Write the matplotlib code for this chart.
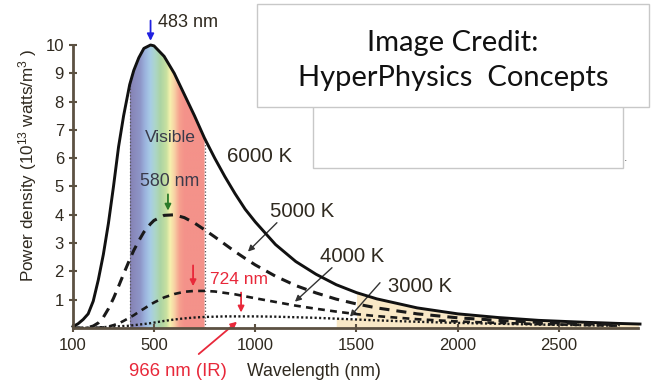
import numpy as np
import matplotlib
matplotlib.use('Agg')
import matplotlib.pyplot as plt
from matplotlib.colors import LinearSegmentedColormap
from matplotlib.patches import Rectangle

plt.rcParams['font.family'] = 'Liberation Sans'
plt.rcParams['mathtext.fontset'] = 'custom'
plt.rcParams['mathtext.rm'] = 'Liberation Sans'
plt.rcParams['mathtext.it'] = 'Liberation Sans:italic'

# wavelength (nm) and power density (10^13 W/m^3)
WAVELENGTH = np.array([100, 125, 150, 175, 200, 225, 250, 275, 300, 325, 350, 380, 400, 425,
                       450, 483, 500, 550, 600, 650, 700, 750, 800, 850, 900, 950, 1000, 1100,
                       1200, 1300, 1400, 1500, 1600, 1800, 2000, 2200, 2400, 2600, 2800, 2900])
T6000 = np.array([0.05, 0.15, 0.3, 0.5, 0.95, 1.7, 2.6, 3.7, 5.0, 6.4, 7.5, 8.6, 9.1, 9.55,
                  9.88, 10.0, 9.97, 9.6, 9.0, 8.25, 7.5, 6.7, 6.0, 5.35, 4.75, 4.2, 3.75, 2.95,
                  2.35, 1.9, 1.53, 1.25, 1.03, 0.71, 0.5, 0.37, 0.27, 0.21, 0.16, 0.14])
T5000 = np.array([0.0, 0.0, 0.0, 0.02, 0.07, 0.18, 0.38, 0.68, 1.05, 1.47, 1.91, 2.42, 2.74, 3.08,
                  3.39, 3.68, 3.8, 3.98, 4.0, 3.9, 3.71, 3.47, 3.22, 2.96, 2.7, 2.46, 2.23, 1.83,
                  1.5, 1.24, 1.02, 0.85, 0.71, 0.5, 0.36, 0.27, 0.2, 0.16, 0.12, np.nan])
T4000 = np.array([0.0, 0.0, 0.0, 0.0, 0.0, 0.01, 0.02, 0.05, 0.1, 0.16, 0.25, 0.37, 0.45, 0.57,
                  0.68, 0.83, 0.9, 1.08, 1.2, 1.28, 1.31, 1.31, 1.29, 1.24, 1.19, 1.12, 1.05, 0.92,
                  0.79, 0.68, 0.58, 0.49, 0.42, 0.31, 0.23, 0.18, 0.14, 0.11, 0.08, np.nan])
T3000 = np.array([0.0, 0.0, 0.0, 0.01, 0.02, 0.02, 0.03, 0.04, 0.05, 0.06, 0.07, 0.08, 0.1, 0.12,
                  0.14, 0.17, 0.19, 0.25, 0.3, 0.34, 0.37, 0.39, 0.4, 0.41, 0.41, 0.41, 0.41, 0.4,
                  0.38, 0.36, 0.33, 0.3, 0.27, 0.22, 0.18, 0.15, 0.12, 0.1, 0.08, np.nan])

BAND_NM = [380, 430, 455, 480, 505, 530, 560, 578, 600, 625, 650, 750]
BAND_COLORS = ['#8682b4', '#8e96c8', '#9cb4de', '#a8cce6', '#acd6c8', '#acd4a4',
               '#c8e0a0', '#f6f2ae', '#f8d0a4', '#f6a08e', '#f4928a', '#f4928a']

XTICKS = [100, 500, 1000, 1500, 2000, 2500]
YTICKS = [1, 2, 3, 4, 5, 6, 7, 8, 9, 10]

AXIS_COL = '#5c5142'
TEXT_COL = '#2f291f'
RED = '#e8283a'

fig = plt.figure(figsize=(6.54, 3.83), dpi=100)
ax = fig.add_axes([0.1116, 0.1436, 0.8639, 0.75])

# cream infrared fill
ir = WAVELENGTH >= 1500
ax.fill_between(WAVELENGTH[ir], 0, T6000[ir], color='#f9e8c6', lw=0, zorder=0)
ir2 = WAVELENGTH >= 1400
ax.fill_between(WAVELENGTH[ir2], 0, T3000[ir2], color='#f9e8c6', lw=0, zorder=0)

# visible rainbow band clipped under the 6000 K curve
band = (WAVELENGTH >= 380) & (WAVELENGTH <= 750)
poly = ax.fill_between(WAVELENGTH[band], 0, T6000[band], facecolor='none', lw=0)
cmap = LinearSegmentedColormap.from_list(
    'vis', [((p - 380) / 370, c) for p, c in zip(BAND_NM, BAND_COLORS)])
im = ax.imshow(np.linspace(0, 1, 500)[None, :], extent=[380, 750, 0, 10.2],
               aspect='auto', cmap=cmap, origin='lower', zorder=1)
im.set_clip_path(poly.get_paths()[0], transform=ax.transData)
for edge in (380, 750):
    top = T6000[WAVELENGTH == edge][0]
    ax.plot([edge, edge], [0, top], ls=':', color='#555555', lw=0.9, zorder=2)

ax.plot(WAVELENGTH, T6000, color='#111111', lw=2.1, zorder=4, clip_on=False)
ax.plot(WAVELENGTH, T5000, color='#1a1a1a', lw=2.2, ls=(0, (3.3, 2.3)), zorder=4)
ax.plot(WAVELENGTH, T4000, color='#1a1a1a', lw=1.9, ls=(0, (2.6, 2.0)), zorder=4)
ax.plot(WAVELENGTH, T3000, color='#1a1a1a', lw=1.7, ls=(0, (0.9, 1.0)), zorder=4)

ax.set_xlim(100, 2890)
ax.set_ylim(0, 10.15)
ax.set_xticks(XTICKS)
ax.set_yticks(YTICKS)
for s in ('top', 'right'):
    ax.spines[s].set_visible(False)
for s in ('left', 'bottom'):
    ax.spines[s].set_color(AXIS_COL)
    ax.spines[s].set_linewidth(2)
    ax.spines[s].set_zorder(5)
ax.spines['left'].set_bounds(0, 10)
ax.tick_params(direction='inout', length=6, width=1.5, color=AXIS_COL,
               labelsize=12, labelcolor=TEXT_COL)
ax.tick_params(axis='x', pad=4)
ax.tick_params(axis='y', pad=3.5)
ax.set_facecolor('none')

fig.text(28 / 654, 1 - 165 / 383, 'Power density (10$^{13}$ watts/m$^3$ )', rotation=90,
         ha='center', va='center', fontsize=12.3, color=TEXT_COL)

# annotations
ax.text(520, 10.8, '483 nm', fontsize=13, color=TEXT_COL, va='center', ha='left')
ax.annotate('', xy=(483, 10.05), xytext=(483, 10.96), annotation_clip=False,
            arrowprops=dict(arrowstyle='-|>', color='#2020e0', lw=1.3, mutation_scale=10))
ax.text(579, 6.72, 'Visible', fontsize=12.6, color='#3a3a4a', ha='center', va='center', zorder=6)
ax.text(579, 5.17, '580 nm', fontsize=12.8, color='#3a3a4a', ha='center', va='center', zorder=6)
ax.annotate('', xy=(569, 4.05), xytext=(569, 4.82),
            arrowprops=dict(arrowstyle='-|>', color='#2a7a2a', lw=1.3, mutation_scale=9))
ax.text(776, 1.71, '724 nm', fontsize=12.5, color=RED, ha='left', va='center', zorder=6)
ax.annotate('', xy=(693, 1.38), xytext=(693, 2.31),
            arrowprops=dict(arrowstyle='-|>', color=RED, lw=1.3, mutation_scale=9))
ax.annotate('', xy=(930, 0.45), xytext=(930, 1.35),
            arrowprops=dict(arrowstyle='-|>', color=RED, lw=1.3, mutation_scale=9))
ax.annotate('966 nm (IR)', xy=(910, 0.22), xytext=(618, -1.54), annotation_clip=False,
            fontsize=13.3, color=RED, ha='center', va='center',
            arrowprops=dict(arrowstyle='-|>', color=RED, lw=1.3, mutation_scale=9,
                            shrinkA=7, shrinkB=0))
ax.text(1290, -1.55, 'Wavelength (nm)', fontsize=12.7, color=TEXT_COL, ha='center', va='center')

ax.text(860, 6.05, '6000 K', fontsize=14.8, color=TEXT_COL, ha='left', va='center')
label_arrows = [('5000 K', (1073, 4.1), (1107, 3.72), (964, 2.70)),
                ('4000 K', (1320, 2.52), (1379, 2.13), (1196, 0.93)),
                ('3000 K', (1656, 1.46), (1616, 1.60), (1468, 0.40))]
for name, pos, start, end in label_arrows:
    ax.text(pos[0], pos[1], name, fontsize=14.6, color=TEXT_COL, ha='left', va='center')
    ax.annotate('', xy=end, xytext=start,
                arrowprops=dict(arrowstyle='-|>', color='#333333', lw=1.0, mutation_scale=9,
                                shrinkA=0, shrinkB=0))

# credit boxes
fig.patches.append(Rectangle((312.7 / 654, 1 - 168 / 383), (623 - 312.7) / 654, 110 / 383,
                             transform=fig.transFigure, facecolor='white',
                             edgecolor='#c8c8c8', lw=1, zorder=10))
fig.patches.append(Rectangle((257 / 654, 1 - 107 / 383), (649 - 257) / 654, 103 / 383,
                             transform=fig.transFigure, facecolor='white',
                             edgecolor='#c8c8c8', lw=1, zorder=11))
fig.text(453 / 654, 1 - 43 / 383, 'Image Credit:', fontsize=21, family='Lato',
         color='#111111', ha='center', va='center', zorder=12)
fig.text(453 / 654, 1 - 78 / 383, 'HyperPhysics  Concepts', fontsize=21, family='Lato',
         color='#111111', ha='center', va='center', zorder=12)
fig.text(626 / 654, 1 - 158 / 383, '.', fontsize=9, color='#666666', ha='center', va='center')

fig.savefig('out.png', dpi=100)
